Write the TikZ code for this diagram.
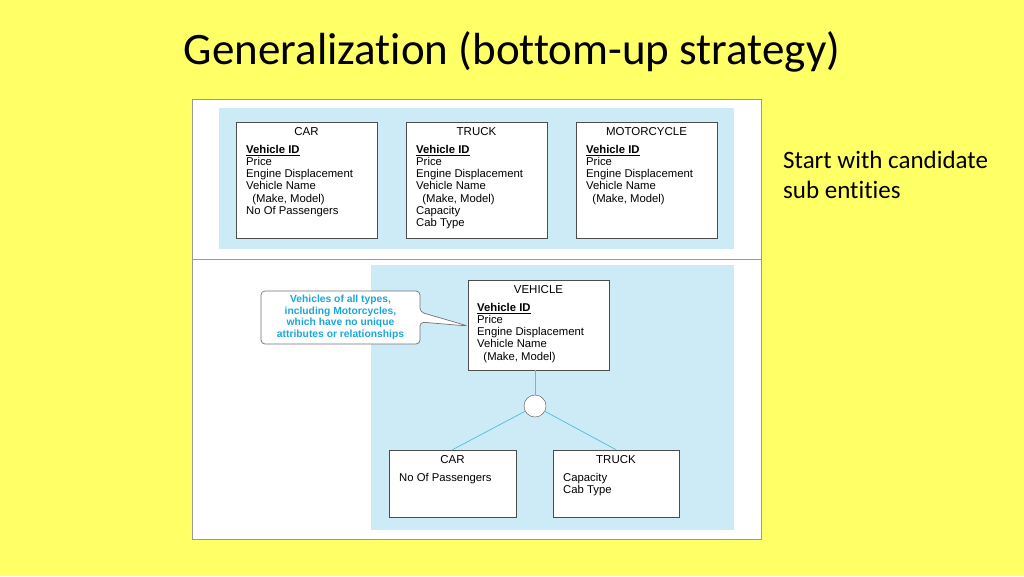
\documentclass[tikz,border=0pt]{standalone}
\usepackage{fontspec}
\setmainfont{Liberation Sans}
\newfontfamily\calibri[Ligatures=NoCommon]{Carlito}
\definecolor{slideyellow}{HTML}{FFFF66}
\definecolor{panelblue}{HTML}{CDEBF7}
\definecolor{notecyan}{HTML}{1AA8D8}
\definecolor{linkblue}{HTML}{5BC0E0}
\tikzset{
  entity/.style={draw=black!70, fill=white, line width=0.6pt},
  ename/.style={anchor=north, font=\fontsize{11.5}{12}\selectfont, inner sep=0pt},
  eattr/.style={anchor=north west, align=left, font=\fontsize{11.3}{12.2}\selectfont, inner sep=0pt},
}
\newcommand{\vid}{\underline{\textbf{Vehicle ID}}}
\begin{document}
\begin{tikzpicture}[x=1pt,y=-1pt]
  \fill[slideyellow] (0,0) rectangle (1024,576);
  \useasboundingbox (0,0) rectangle (1024,576);
  \node[font=\calibri\fontsize{45}{48}\selectfont] (title) at (512,52) {Generalization (bottom-up strategy)};
  \node[anchor=north west, align=left, inner sep=0pt, font=\calibri\fontsize{25}{30}\selectfont] (remark) at (783,151)
    {Start with candidate\\sub entities};
  % frame and panels
  \draw[fill=white, draw=black!40] (192,99) rectangle (761,539);
  \draw[black!40] (192,259) -- (761,259);
  \fill[panelblue] (219,108) rectangle (734,249);
  \fill[panelblue] (371,265) rectangle (734,530);
  % top row: candidate sub entities
  \draw[entity] (236,122) rectangle (377,238);
  \node[ename] (car) at (306.5,127) {CAR};
  \node[eattr] at (246,145) {\vid\\Price\\Engine Displacement\\Vehicle Name\\\ \ (Make, Model)\\No Of Passengers};
  \draw[entity] (406,122) rectangle (547,238);
  \node[ename] (truck) at (476.5,127) {TRUCK};
  \node[eattr] at (416,145) {\vid\\Price\\Engine Displacement\\Vehicle Name\\\ \ (Make, Model)\\Capacity\\Cab Type};
  \draw[entity] (576,122) rectangle (717,238);
  \node[ename] (moto) at (646.5,127) {MOTORCYCLE};
  \node[eattr] at (586,145) {\vid\\Price\\Engine Displacement\\Vehicle Name\\\ \ (Make, Model)};
  % bottom: supertype with subtypes
  \node[entity, minimum width=141pt, minimum height=90pt, inner sep=0pt] (vehicle) at (538.5,325) {};
  \node[ename] at (538.5,285) {VEHICLE};
  \node[eattr] at (477,303) {\vid\\Price\\Engine Displacement\\Vehicle Name\\\ \ (Make, Model)};
  \node[draw=black!70, fill=white, circle, minimum size=22pt, inner sep=0pt] (isa) at (535,406) {};
  \node[entity, minimum width=127pt, minimum height=67pt, inner sep=0pt] (subcar) at (452.5,483.5) {};
  \node[ename] at (452.5,455) {CAR};
  \node[eattr] at (399,473) {No Of Passengers};
  \node[entity, minimum width=126pt, minimum height=67pt, inner sep=0pt] (subtruck) at (616,483.5) {};
  \node[ename] at (616,455) {TRUCK};
  \node[eattr] at (563,473) {Capacity\\Cab Type};
  \draw[linkblue, line width=0.8pt] (vehicle.south -| isa) -- (isa.north);
  \draw[linkblue, line width=0.8pt] (isa) -- (subcar.north);
  \draw[linkblue, line width=0.8pt] (isa) -- (subtruck.north);
  % note
  \coordinate (tip) at (468,326);
  \draw[black!55, fill=white, line width=0.7pt, rounded corners=4pt]
    (261,291) -- (420,291) -- (420,312) -- (tip) -- (420,322) -- (420,344) -- (261,344) -- cycle;
  \node[align=center, text=notecyan, font=\bfseries\fontsize{10.3}{11.5}\selectfont] (note) at (340.5,317.5)
    {Vehicles of all types,\\including Motorcycles,\\which have no unique\\attributes or relationships};
\end{tikzpicture}
\end{document}
